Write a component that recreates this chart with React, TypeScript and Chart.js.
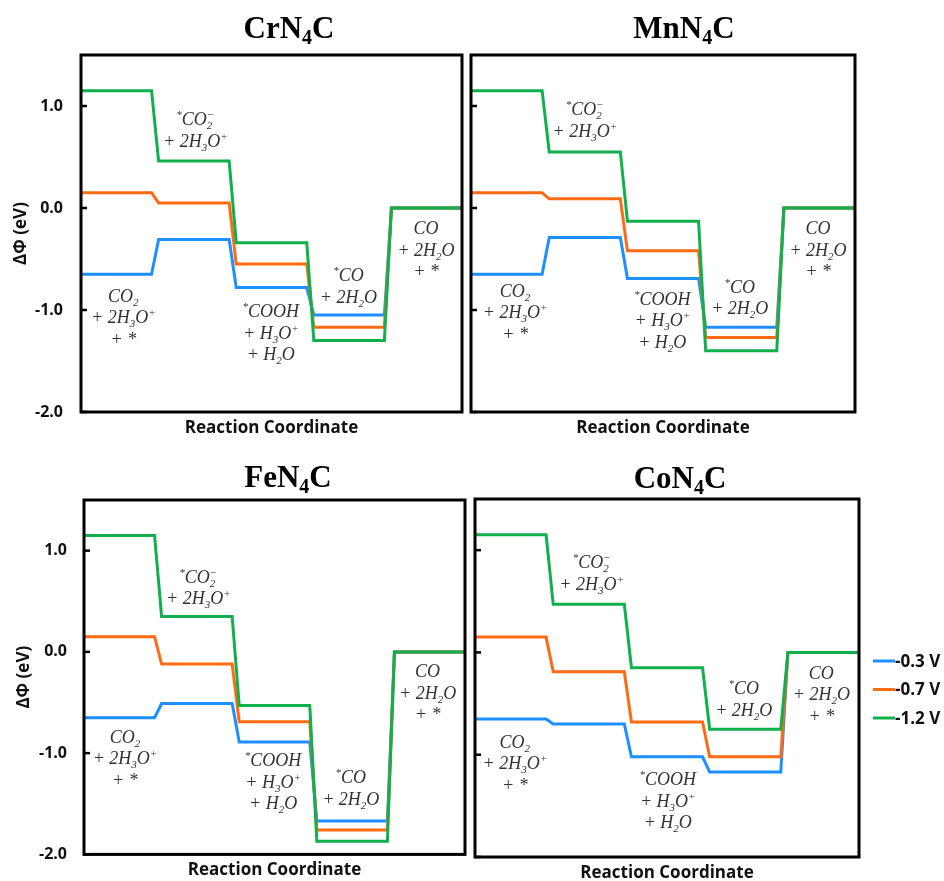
import React, { useEffect, useRef } from "react";
import { Chart, registerables } from "chart.js";

Chart.register(...registerables);

// ---------------- data ----------------
// reaction-coordinate end points of each plateau (5 states)
const reactionCoord = [0, 10, 11, 21, 22, 32, 33, 43, 44, 54];
const yTickValues = [-2, -1, 0, 1];
const yMin = -2;
const yMax = 1.5;
const potentialLabels = ["-0.3 V", "-0.7 V", "-1.2 V"];
const panelNames = ["CrN_4C", "MnN_4C", "FeN_4C", "CoN_4C"];
const xTitle = "Reaction Coordinate";
const yTitle = "ΔΦ (eV)";

// ΔΦ (eV) for the 5 states
const crN4C_03 = [-0.65, -0.31, -0.78, -1.05, 0];
const crN4C_07 = [0.15, 0.05, -0.55, -1.17, 0];
const crN4C_12 = [1.15, 0.46, -0.34, -1.3, 0];

const mnN4C_03 = [-0.65, -0.29, -0.69, -1.17, 0];
const mnN4C_07 = [0.15, 0.09, -0.42, -1.27, 0];
const mnN4C_12 = [1.15, 0.55, -0.13, -1.4, 0];

const feN4C_03 = [-0.65, -0.51, -0.89, -1.67, 0];
const feN4C_07 = [0.15, -0.12, -0.69, -1.76, 0];
const feN4C_12 = [1.15, 0.35, -0.53, -1.87, 0];

const coN4C_03 = [-0.65, -0.7, -1.02, -1.17, 0];
const coN4C_07 = [0.15, -0.19, -0.68, -1.02, 0];
const coN4C_12 = [1.15, 0.47, -0.15, -0.75, 0];

const panelSeries = [
  [crN4C_03, crN4C_07, crN4C_12],
  [mnN4C_03, mnN4C_07, mnN4C_12],
  [feN4C_03, feN4C_07, feN4C_12],
  [coN4C_03, coN4C_07, coN4C_12],
];

// state labels (markup: _x subscript, ^x superscript)
const stateLabels = [
  ["CO_2", "+ 2H_3O^+", "+ *"],
  ["^*CO_2^−", "+ 2H_3O^+"],
  ["^*COOH", "+ H_3O^+", "+ H_2O"],
  ["^*CO", "+ 2H_2O"],
  ["CO", "+ 2H_2O", "+ *"],
];

// ---------------- layout / style ----------------
const seriesColors = ["#1E8FFF", "#FF6A12", "#10B04C"];
const seriesOrder = [2, 1, 0];

type Rect = { x: number; y: number; w: number; h: number };
type Area = { l: number; t: number; r: number; b: number };
type PanelLayout = {
  canvas: Rect;
  area: Area;
  titleX: number;
  titleY: number;
  showYAxis: boolean;
  yTitleX: number;
  labelAnchors: number[][]; // [reaction coord, ΔΦ] of first-line centre
  legend: boolean;
};

const panelLayouts: PanelLayout[] = [
  {
    canvas: { x: 0, y: 0, w: 468, h: 440 },
    area: { l: 81, t: 55, r: 462, b: 412 },
    titleX: 289,
    titleY: 38,
    showYAxis: true,
    yTitleX: 21,
    labelAnchors: [[6.0, -0.86], [16.2, 0.87], [26.9, -1.01], [37.9, -0.66], [48.9, -0.2]],
    legend: false,
  },
  {
    canvas: { x: 468, y: 0, w: 476, h: 440 },
    area: { l: 471, t: 55, r: 855, b: 412 },
    titleX: 684,
    titleY: 38,
    showYAxis: false,
    yTitleX: 0,
    labelAnchors: [[6.2, -0.81], [16.0, 0.97], [26.9, -0.89], [37.8, -0.77], [48.8, -0.2]],
    legend: false,
  },
  {
    canvas: { x: 0, y: 440, w: 468, h: 441 },
    area: { l: 84, t: 500, r: 465, b: 857 },
    titleX: 288,
    titleY: 487,
    showYAxis: true,
    yTitleX: 24,
    labelAnchors: [[5.8, -0.84], [16.2, 0.74], [26.8, -1.07], [37.8, -1.24], [48.7, -0.19]],
    legend: false,
  },
  {
    canvas: { x: 468, y: 440, w: 476, h: 441 },
    area: { l: 475, t: 499, r: 859, b: 857 },
    titleX: 680,
    titleY: 488,
    showYAxis: false,
    yTitleX: 0,
    labelAnchors: [[5.6, -0.875], [16.4, 0.88], [27.1, -1.24], [37.8, -0.35], [48.7, -0.2]],
    legend: true,
  },
];

const legendBox = { x: 873, y: 661, lineLen: 22, gap: 28.5 };

type RichStyle = {
  family: string;
  weight: string;
  style: string;
  size: number;
  small: number;
  subDy: number;
  supDy: number;
  color: string;
};

const annotationStyle: RichStyle = {
  family: '"Liberation Serif", "Times New Roman", serif',
  weight: "normal",
  style: "italic",
  size: 18,
  small: 11,
  subDy: 4,
  supDy: -7,
  color: "#333333",
};

const titleStyle: RichStyle = {
  family: '"Liberation Serif", "Times New Roman", serif',
  weight: "bold",
  style: "normal",
  size: 31,
  small: 20,
  subDy: 6,
  supDy: -10,
  color: "#000000",
};

const sansFamily = '"Open Sans", "Noto Sans", sans-serif';

function drawRich(ctx: CanvasRenderingContext2D, text: string, cx: number, baseline: number, st: RichStyle) {
  const runs: { t: string; k: string }[] = [];
  for (let i = 0; i < text.length; i++) {
    const c = text[i];
    if ((c === "_" || c === "^") && i + 1 < text.length) {
      runs.push({ t: text[i + 1], k: c === "_" ? "sub" : "sup" });
      i++;
    } else {
      const last = runs[runs.length - 1];
      if (last && last.k === "n") last.t += c;
      else runs.push({ t: c, k: "n" });
    }
  }
  const f = (sz: number) => `${st.style} ${st.weight} ${sz}px ${st.family}`;
  let x = 0;
  let prevSub: { x: number } | null = null;
  const placed: { t: string; k: string; x: number; sz: number }[] = [];
  for (const r of runs) {
    const sz = r.k === "n" ? st.size : st.small;
    ctx.font = f(sz);
    const w = ctx.measureText(r.t).width;
    if (r.k === "sup" && prevSub) {
      placed.push({ ...r, x: prevSub.x, sz });
      x = Math.max(x, prevSub.x + w);
      prevSub = null;
    } else {
      placed.push({ ...r, x, sz });
      prevSub = r.k === "sub" ? { x } : null;
      x += w;
    }
  }
  const x0 = cx - x / 2;
  ctx.fillStyle = st.color;
  ctx.textAlign = "left";
  ctx.textBaseline = "alphabetic";
  for (const p of placed) {
    ctx.font = f(p.sz);
    const dy = p.k === "sub" ? st.subDy : p.k === "sup" ? st.supDy : 0;
    ctx.fillText(p.t, x0 + p.x, baseline + dy);
  }
}

function levelPoints(levels: number[]) {
  const pts: { x: number; y: number }[] = [];
  levels.forEach((v, i) => {
    pts.push({ x: reactionCoord[2 * i], y: v });
    pts.push({ x: reactionCoord[2 * i + 1], y: v });
  });
  return pts;
}

function makeDecorPlugin(p: PanelLayout, panelIndex: number) {
  return {
    id: "decor" + panelIndex,
    afterDatasetsDraw(chart: any) {
      const ctx: CanvasRenderingContext2D = chart.ctx;
      const { left, top, right, bottom } = chart.chartArea;
      const xs = chart.scales.x;
      const ys = chart.scales.y;
      const ox = p.canvas.x;
      const oy = p.canvas.y;
      ctx.save();
      // frame
      ctx.strokeStyle = "#000";
      ctx.lineWidth = 3;
      ctx.strokeRect(left, top, right - left, bottom - top);
      // inward tick marks
      ctx.lineWidth = 2.5;
      for (const v of yTickValues) {
        const y = ys.getPixelForValue(v);
        ctx.beginPath();
        ctx.moveTo(left, y);
        ctx.lineTo(left + 6, y);
        ctx.stroke();
      }
      // state annotations
      stateLabels.forEach((lines, si) => {
        const [u, v] = p.labelAnchors[si];
        const cx = xs.getPixelForValue(u);
        const cy = ys.getPixelForValue(v);
        lines.forEach((ln, li) => {
          drawRich(ctx, ln, cx, cy + 6 + li * 21.5, annotationStyle);
        });
      });
      // panel title
      drawRich(ctx, panelNames[panelIndex], p.titleX - ox, p.titleY - oy, titleStyle);
      // x-axis title
      ctx.fillStyle = "#111";
      ctx.font = `bold 17px ${sansFamily}`;
      ctx.textAlign = "center";
      ctx.textBaseline = "alphabetic";
      ctx.fillText(xTitle, (left + right) / 2, bottom + 21);
      // y-axis title
      if (p.showYAxis) {
        ctx.save();
        ctx.translate(p.yTitleX - ox, (top + bottom) / 2);
        ctx.rotate(-Math.PI / 2);
        ctx.textBaseline = "middle";
        ctx.fillText(yTitle, 0, 0);
        ctx.restore();
      }
      // legend
      if (p.legend) {
        chart.data.datasets.forEach((ds: any, i: number) => {
          const y = legendBox.y + i * legendBox.gap - oy;
          const x = legendBox.x - ox;
          ctx.strokeStyle = ds.borderColor;
          ctx.lineWidth = 3;
          ctx.beginPath();
          ctx.moveTo(x, y);
          ctx.lineTo(x + legendBox.lineLen, y);
          ctx.stroke();
          ctx.fillStyle = "#111";
          ctx.font = `bold 17px ${sansFamily}`;
          ctx.textAlign = "left";
          ctx.textBaseline = "middle";
          ctx.fillText(ds.label, x + legendBox.lineLen, y + 1);
        });
      }
      ctx.restore();
    },
  };
}

function Panel({ index }: { index: number }) {
  const ref = useRef<HTMLCanvasElement | null>(null);
  const p = panelLayouts[index];
  useEffect(() => {
    if (!ref.current) return;
    const yWidth = p.area.l - p.canvas.x;
    const chart = new Chart(ref.current, {
      type: "line",
      data: {
        datasets: panelSeries[index].map((levels, si) => ({
          label: potentialLabels[si],
          data: levelPoints(levels),
          borderColor: seriesColors[si],
          backgroundColor: seriesColors[si],
          borderWidth: 3,
          pointRadius: 0,
          tension: 0,
          fill: false,
          order: seriesOrder[si],
        })),
      },
      options: {
        animation: false,
        responsive: false,
        events: [],
        layout: {
          padding: {
            left: 0,
            top: p.area.t - p.canvas.y,
            right: p.canvas.x + p.canvas.w - p.area.r,
            bottom: p.canvas.y + p.canvas.h - p.area.b,
          },
        },
        plugins: {
          legend: { display: false },
          tooltip: { enabled: false },
          title: { display: false },
        },
        scales: {
          x: {
            type: "linear",
            min: reactionCoord[0],
            max: reactionCoord[reactionCoord.length - 1],
            display: false,
          },
          y: {
            type: "linear",
            min: yMin,
            max: yMax,
            grid: { display: false, drawTicks: false },
            border: { display: false },
            afterBuildTicks: (scale: any) => {
              scale.ticks = yTickValues.map((v) => ({ value: v }));
            },
            afterFit: (scale: any) => {
              scale.width = yWidth;
            },
            ticks: {
              display: p.showYAxis,
              padding: p.showYAxis ? (index === 0 ? 18 : 17) : 0,
              color: "#111",
              font: { family: sansFamily, size: 16, weight: "bold" },
              callback: (v: any) => Number(v).toFixed(1),
            },
          },
        },
      } as any,
      plugins: [makeDecorPlugin(p, index)],
    });
    return () => chart.destroy();
  }, [index]);
  return (
    <canvas
      ref={ref}
      width={p.canvas.w}
      height={p.canvas.h}
      style={{
        position: "absolute",
        left: p.canvas.x,
        top: p.canvas.y,
        width: p.canvas.w,
        height: p.canvas.h,
      }}
    />
  );
}

export default function App() {
  return (
    <div
      style={{
        position: "absolute",
        left: 0,
        top: 0,
        width: 944,
        height: 881,
        background: "#fff",
        overflow: "hidden",
      }}
    >
      {panelLayouts.map((_, i) => (
        <Panel key={i} index={i} />
      ))}
    </div>
  );
}
